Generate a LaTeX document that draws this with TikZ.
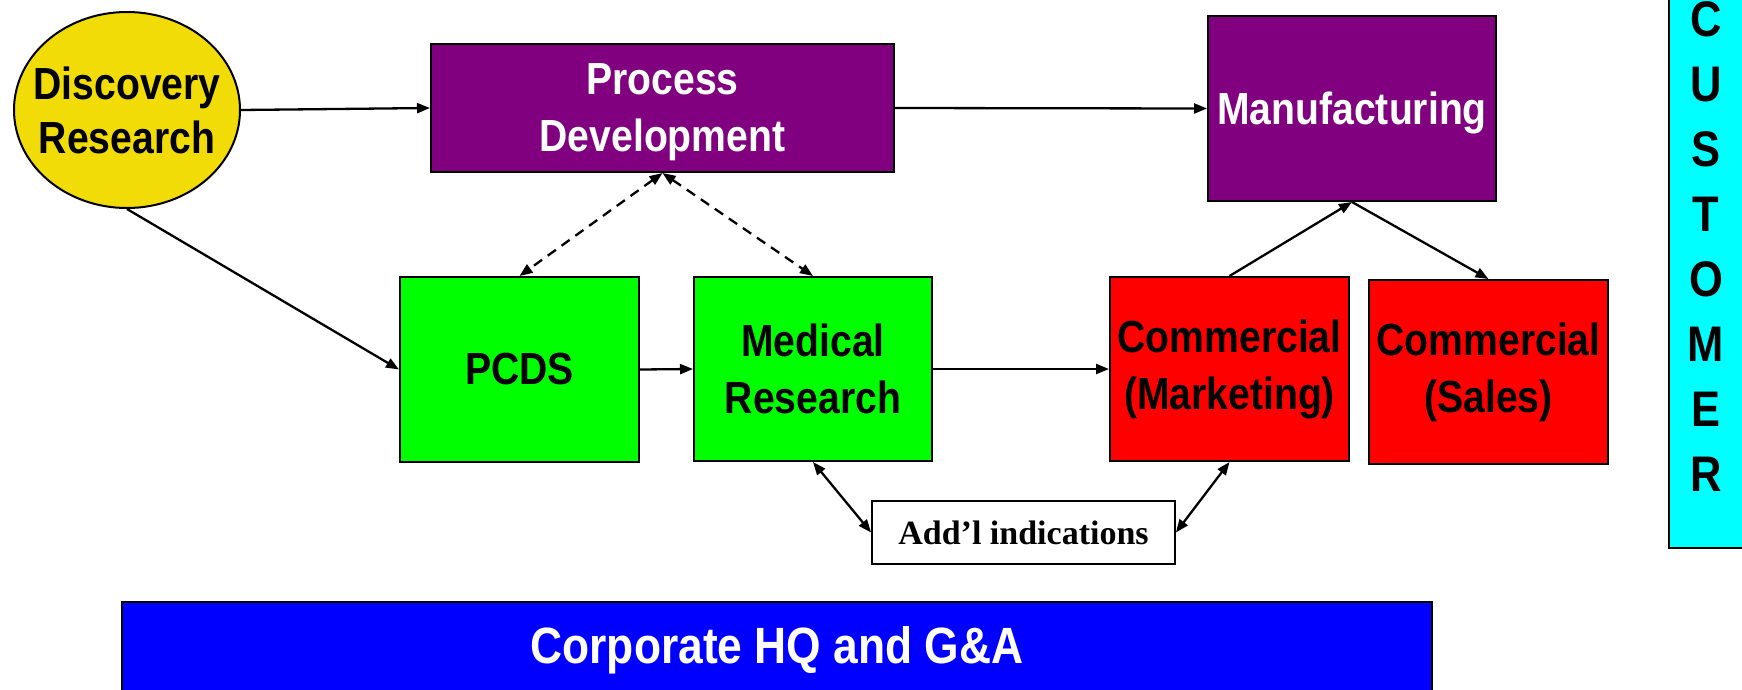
\documentclass[tikz,border=0pt]{standalone}
\usepackage{fontspec}
\newfontfamily\cond[FakeStretch=0.87]{Liberation Sans}
\newfontfamily\serifb{Liberation Serif}
\usetikzlibrary{shapes.geometric,arrows.meta}
\definecolor{discyellow}{RGB}{242,220,8}
\definecolor{purp}{RGB}{128,0,128}
\definecolor{grn}{RGB}{0,255,0}
\definecolor{rd}{RGB}{255,0,0}
\definecolor{cyn}{RGB}{0,255,255}
\definecolor{blu}{RGB}{0,0,255}
\begin{document}
\begin{tikzpicture}[x=1pt,y=-1pt,
  box/.style={draw=black, line width=2pt, inner sep=0pt, align=center,
    font=\cond\bfseries\fontsize{45}{57}\selectfont},
  purplebox/.style={box, fill=purp, text=white},
  greenbox/.style={box, fill=grn, text=black},
  redbox/.style={box, fill=rd, text=black},
  conn/.style={line width=2.3pt, -{Triangle[length=13pt,width=10pt]}},
  biconn/.style={line width=2.3pt, {Triangle[length=13pt,width=10pt]}-{Triangle[length=13pt,width=10pt]}},
  dashconn/.style={biconn, dash pattern=on 10pt off 7pt}
]
\useasboundingbox (0,0) rectangle (1742,689);
\fill[white] (0,0) rectangle (1742,689);

\node[box, ellipse, fill=discyellow, inner xsep=-25pt, inner ysep=-10pt,
  font=\cond\bfseries\fontsize{45}{54}\selectfont,
  minimum width=226pt, minimum height=196pt] (disc) at (127,110) {Discovery\\Research};
\node[purplebox, text depth=0pt, minimum width=463pt, minimum height=128pt] (pd) at (662.5,108) {Process\\Development};
\node[purplebox, text depth=0pt, minimum width=288pt, minimum height=185pt] (mfg) at (1352,108.5) {Manufacturing};
\node[greenbox, minimum width=239pt, minimum height=185pt] (pcds) at (519.5,369.5) {PCDS};
\node[greenbox, minimum width=238pt, minimum height=184pt] (med) at (813,369) {Medical\\Research};
\node[redbox, minimum width=239pt, minimum height=184pt] (mkt) at (1229.5,369) {Commercial\\(Marketing)};
\node[redbox, minimum width=239pt, minimum height=184pt] (sales) at (1488.5,372) {Commercial\\(Sales)};
\node[draw=black, line width=1.8pt, fill=white, minimum width=303pt, minimum height=63pt, inner sep=0pt,
  font=\serifb\bfseries\fontsize{34}{40}\selectfont] (addl) at (1023.5,532.5) {Add’l indications};
\node[box, fill=blu, text=white, minimum width=1310pt, minimum height=96pt,
  font=\cond\bfseries\fontsize{51}{60}\selectfont] (corp) at (777,650) {Corporate HQ and G\&A};

\draw[line width=2pt, fill=cyn] (1669,-5) rectangle (1760,548);
\node[align=center, inner sep=0pt, font=\cond\bfseries\fontsize{50}{65}\selectfont] (cust) at (1706,247)
  {C\\U\\S\\T\\O\\M\\E\\R};

\draw[conn] (disc.east) -- (pd.west);
\draw[conn] (pd.east) -- (mfg.west);
\draw[conn] (disc.south) -- (pcds.west);
\draw[dashconn] (pd.south) -- (pcds.north);
\draw[dashconn] (pd.south) -- (med.north);
\draw[conn] (pcds.east) -- (med.west);
\draw[conn] (med.east) -- (mkt.west);
\draw[conn] (mkt.north) -- (mfg.south);
\draw[conn] (mfg.south) -- (sales.north);
\draw[biconn] (med.south) -- (addl.west);
\draw[biconn] (addl.east) -- (mkt.south);
\end{tikzpicture}
\end{document}
